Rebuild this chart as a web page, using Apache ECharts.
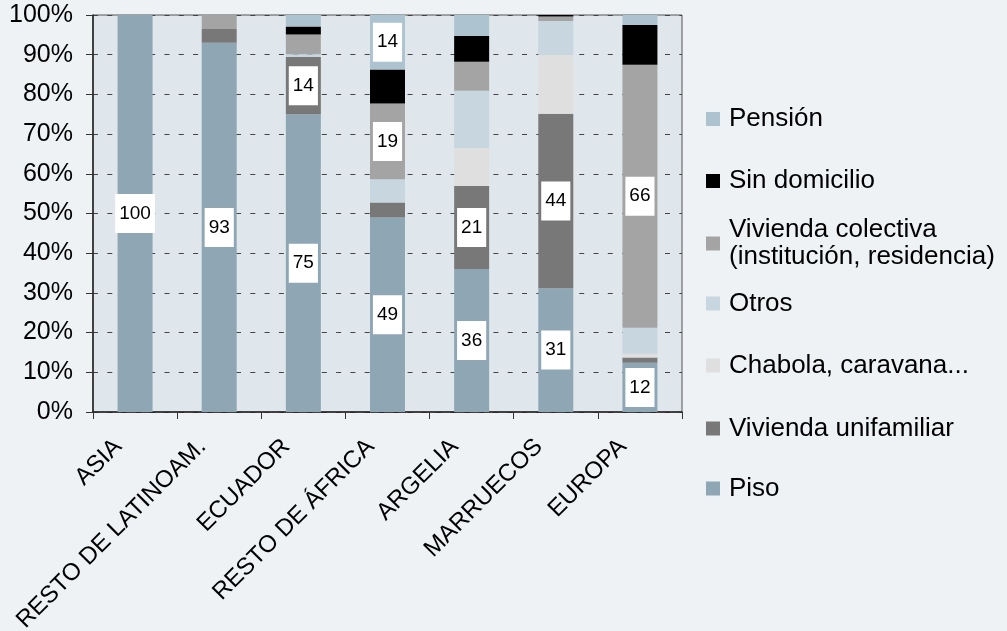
<!DOCTYPE html>
<html>
<head>
<meta charset="utf-8">
<script src="https://cdn.jsdelivr.net/npm/echarts@6/dist/echarts.min.js"></script>
<style>
  html, body { margin: 0; padding: 0; background: #eef2f5; }
  #chart { width: 1007px; height: 631px; }
</style>
</head>
<body>
<div id="chart"></div>
<script>
// ---- Data (percent of each origin group) ----
const categories = ['ASIA', 'RESTO DE LATINOAM.', 'ECUADOR', 'RESTO DE ÁFRICA', 'ARGELIA', 'MARRUECOS', 'EUROPA'];
const piso         = [100, 93,   75,   49,   36,   31.2, 12.4];
const unifamiliar  = [0,   3.5,  14.4, 3.8,  20.9, 43.9, 1.3];
const chabola      = [0,   0,    0,    0,    9.6,  14.8, 1.0];
const otros        = [0,   0,    0.7,  5.8,  14.4, 8.6,  6.5];
const colectiva    = [0,   3.5,  5.0,  19.1, 7.3,  1.1,  66.3];
const sinDomicilio = [0,   0,    2.0,  8.6,  6.5,  0.4,  10.0];
const pension      = [0,   0,    2.9,  13.7, 5.3,  0,    2.5];
const yTicks = [0, 10, 20, 30, 40, 50, 60, 70, 80, 90, 100];

const seriesNames = ['Piso', 'Vivienda unifamiliar', 'Chabola, caravana...', 'Otros',
  'Vivienda colectiva\n(institución, residencia)', 'Sin domicilio', 'Pensión'];
const seriesData = [piso, unifamiliar, chabola, otros, colectiva, sinDomicilio, pension];
// which segments carry a value label (by category)
const labeledPoints = [
  categories,
  ['ECUADOR', 'ARGELIA', 'MARRUECOS'],
  [],
  [],
  ['RESTO DE ÁFRICA', 'EUROPA'],
  [],
  ['RESTO DE ÁFRICA']
];

const colors = ['#8fa6b5', '#787878', '#dfdfdf', '#c8d6df', '#a4a4a4', '#000000', '#adc3d0'];
const FONT = '"Liberation Sans", Arial, Helvetica, sans-serif';

const series = seriesNames.map((name, i) => ({
  name: name,
  type: 'bar',
  stack: 'total',
  barWidth: 35,
  itemStyle: { color: colors[i] },
  data: seriesData[i].map((v, j) => ({
    value: v,
    label: {
      show: labeledPoints[i].indexOf(categories[j]) >= 0,
      position: 'inside',
      formatter: p => String(Math.round(p.value)),
      backgroundColor: '#ffffff',
      color: '#000',
      fontSize: 19,
      fontFamily: FONT,
      padding: [10, 4, 10, 4]
    }
  }))
}));

// legend layout: one legend per entry, top-to-bottom order as in the reference
const legendOrder = [6, 5, 4, 3, 2, 1, 0];
const legendTops = [105.5, 167.5, 203, 290, 352, 415, 475];
const legends = legendOrder.map((si, k) => ({
  data: [seriesNames[si]],
  orient: 'vertical',
  left: 706,
  top: legendTops[k],
  padding: 0,
  itemWidth: 14,
  itemHeight: 14,
  icon: 'rect',
  selectedMode: false,
  textStyle: {
    fontSize: 26,
    lineHeight: 27,
    color: '#000',
    fontFamily: FONT,
    padding: si === 4 ? [27, 0, 0, 4] : [0, 0, 0, 4]
  }
}));

const chart = echarts.init(document.getElementById('chart'), null, { renderer: 'canvas' });
chart.setOption({
  backgroundColor: '#eef2f5',
  animation: false,
  color: colors,
  grid: {
    left: 93, right: 325, top: 15, bottom: 219,
    containLabel: false,
    outerBoundsMode: 'none',
    show: true,
    backgroundColor: '#dfe6ec',
    borderColor: '#555',
    borderWidth: 1
  },
  legend: legends,
  xAxis: {
    type: 'category',
    data: categories,
    axisLine: { lineStyle: { color: '#222', width: 1.5 } },
    axisTick: { show: true, length: 7, lineStyle: { color: '#333' } },
    axisLabel: {
      interval: 0,
      rotate: 45,
      fontSize: 24,
      color: '#000',
      fontFamily: FONT,
      margin: 14,
      padding: [0, 24, 0, 0]
    }
  },
  yAxis: {
    type: 'value',
    min: yTicks[0],
    max: yTicks[yTicks.length - 1],
    interval: yTicks[1] - yTicks[0],
    axisLine: { show: true, lineStyle: { color: '#222', width: 1.5 } },
    axisTick: { show: true, length: 7, lineStyle: { color: '#333' } },
    axisLabel: {
      formatter: '{value}%',
      fontSize: 25,
      color: '#000',
      fontFamily: FONT,
      margin: 20
    },
    splitLine: { show: true, lineStyle: { color: '#444', type: [5, 9.3], width: 1 } }
  },
  series: series
});
</script>
</body>
</html>
